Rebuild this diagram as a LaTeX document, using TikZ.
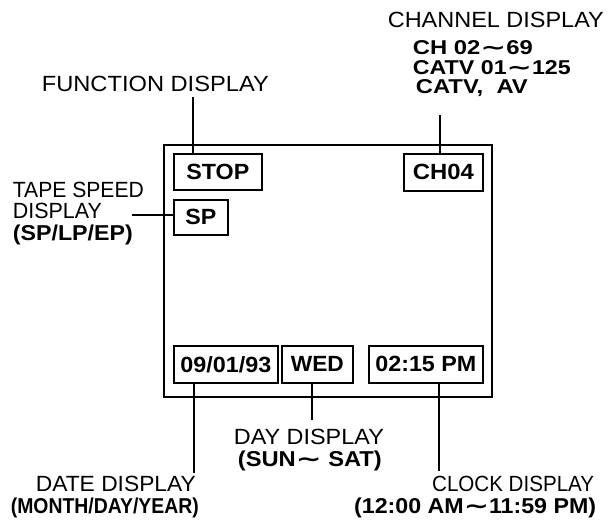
\documentclass[tikz,border=0pt]{standalone}
\usepackage{fontspec}
\usepackage{graphicx}
\setmainfont{Liberation Sans}
\newfontfamily\symfont{DejaVu Sans}
\newcommand\wv{{\symfont\bfseries\scalebox{1.3}[1]{∼}}}
\newlength\fitwd
\newcommand\fitto[2]{\settowidth{\fitwd}{#2}\pgfmathsetmacro\fitfac{#1/\fitwd}\scalebox{\fitfac}[1]{#2}}
\begin{document}
\begin{tikzpicture}[x=1pt,y=-1pt, line width=1.7pt,
  lbl/.style={inner sep=0pt, font=\fontsize{22}{22}\selectfont},
  blbl/.style={inner sep=0pt, font=\fontsize{21.5}{21.5}\selectfont\bfseries},
  chl/.style={inner sep=0pt, anchor=base west, font=\fontsize{20}{20}\selectfont\bfseries},
  dbox/.style={draw, inner sep=0pt, anchor=north west, font=\fontsize{22}{22}\selectfont\bfseries}]
\useasboundingbox (0,0) rectangle (609,520);
% screen
\node[draw, inner sep=0pt, minimum width=328pt, minimum height=252pt, anchor=north west] (screen) at (163,144) {};
% display boxes
\node[dbox, minimum width=88pt, minimum height=36pt] (stop) at (173,153) {\fitto{63}{STOP}};
\node[dbox, minimum width=79pt, minimum height=37pt] (ch) at (403,153) {\fitto{61}{CH04}};
\node[dbox, minimum width=54pt, minimum height=35pt] (sp) at (173,199) {\fitto{31}{SP}};
\node[dbox, minimum width=104pt, minimum height=37pt] (date) at (173,345) {\fitto{91}{09/01/93}};
\node[dbox, minimum width=71pt, minimum height=37pt] (wed) at (281,345) {\fitto{53}{WED}};
\node[dbox, minimum width=114pt, minimum height=37pt] (clock) at (368,345) {\fitto{101}{02:15 PM}};
% labels
\node[lbl, anchor=base west] (flab) at (41,91) {\fitto{227}{FUNCTION DISPLAY}};
\node[lbl, anchor=base west] (chlab) at (387,27) {\fitto{216}{CHANNEL DISPLAY}};
\node[chl] (ch1) at (412,54) {\fitto{120}{CH 02\wv69}};
\node[chl] (ch2) at (412,74) {\fitto{158}{CATV 01\wv125}};
\node[chl] (ch3) at (415,93) {\fitto{112}{CATV,\ \ AV}};
\node[lbl, anchor=base west] (t1) at (12,197) {\fitto{131}{TAPE SPEED}};
\node[lbl, anchor=base west] (t2) at (12,218) {\fitto{89}{DISPLAY}};
\node[blbl, anchor=base west] (t3) at (12,240) {\fitto{120}{(SP/LP/EP)}};
\node[lbl, anchor=base west] (d1) at (233,444) {\fitto{150}{DAY DISPLAY}};
\node[blbl, anchor=base west] (d2) at (237,466) {\fitto{144}{(SUN\wv\ SAT)}};
\node[lbl, anchor=base west] (a1) at (35,491) {\fitto{160}{DATE DISPLAY}};
\node[blbl, anchor=base west] (a2) at (10,513) {\fitto{188}{(MONTH/DAY/YEAR)}};
\node[lbl, anchor=base east] (c1) at (595,491) {\fitto{162}{CLOCK DISPLAY}};
\node[blbl, anchor=base east] (c2) at (597,513) {\fitto{242}{(12:00 AM\wv11:59 PM)}};
% leader ends
\coordinate (fend) at (193,97);
\coordinate (chend) at (440,115);
\coordinate (tend) at (132,215);
\coordinate (aend) at (194,473);
\coordinate (dend) at (312,420);
\coordinate (cend) at (439,471);
% leaders
\draw (fend) -- (fend |- stop.north);
\draw (chend) -- (chend |- ch.north);
\draw (tend) -- (tend -| sp.west);
\draw (aend |- date.south) -- (aend);
\draw (dend |- wed.south) -- (dend);
\draw (cend |- clock.south) -- (cend);
\end{tikzpicture}
\end{document}
